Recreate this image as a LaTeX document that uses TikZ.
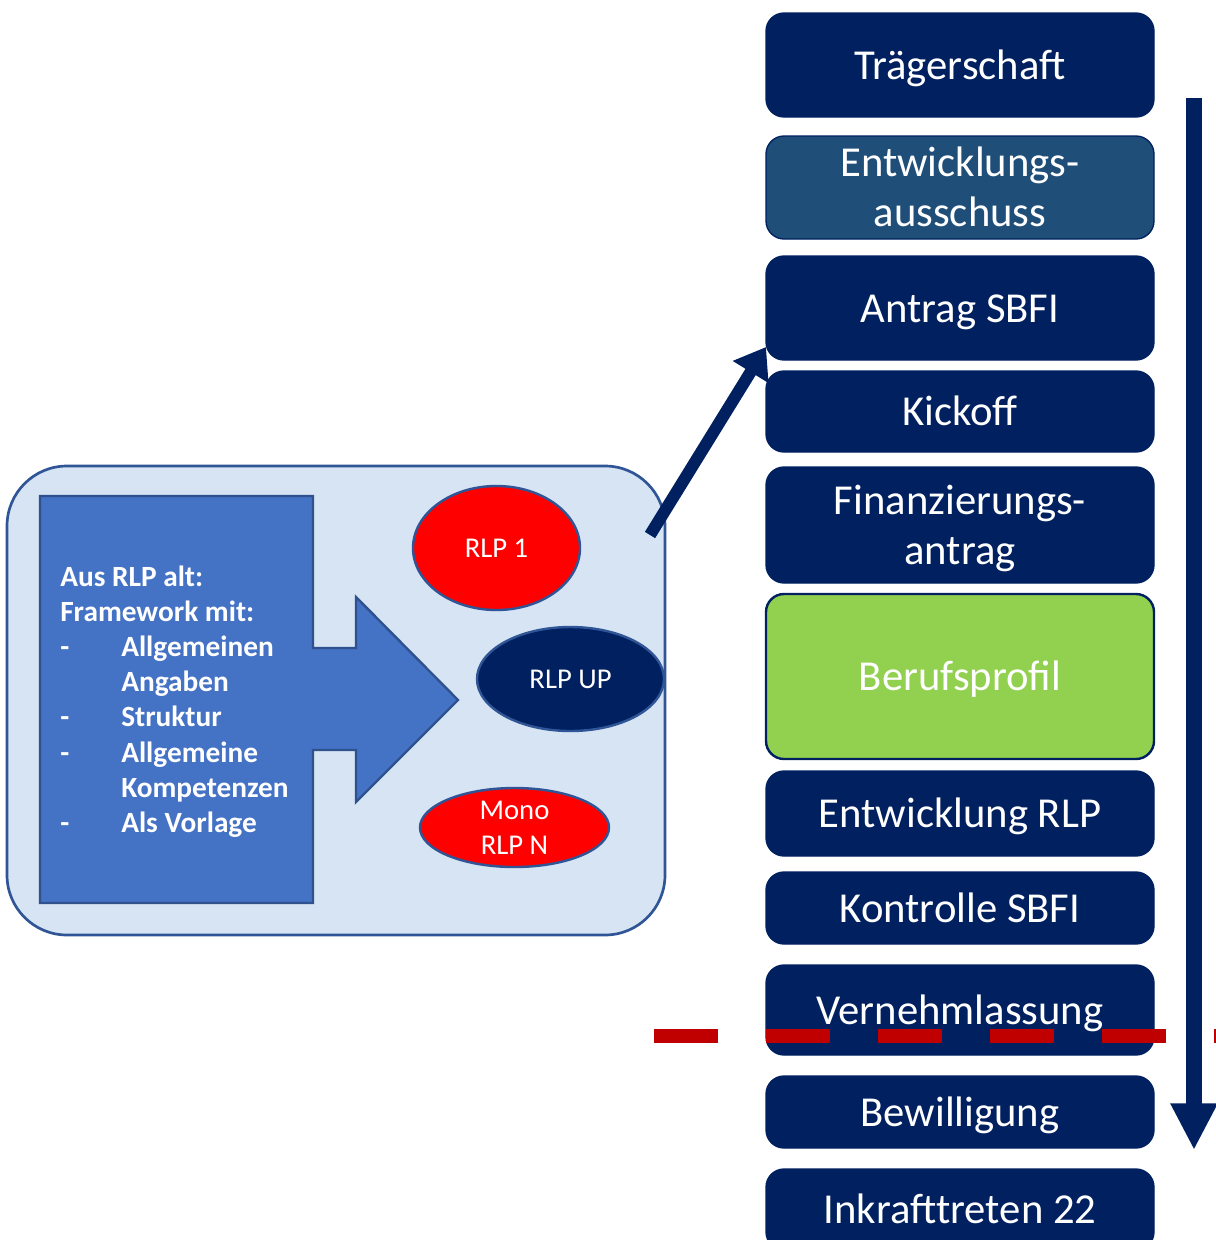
\documentclass[tikz,border=0pt]{standalone}
\usepackage{fontspec}
\setmainfont{Carlito}
\usetikzlibrary{arrows.meta,shapes.geometric}
\definecolor{navy}{HTML}{002060}
\definecolor{midblue}{HTML}{1F4E79}
\definecolor{leaf}{HTML}{92D050}
\definecolor{panelfill}{HTML}{D6E4F3}
\definecolor{panelline}{HTML}{2F5597}
\definecolor{blockblue}{HTML}{4472C4}
\definecolor{blockline}{HTML}{2F528F}
\definecolor{dashred}{HTML}{C00000}
\tikzset{
  stepbox/.style={rectangle, rounded corners=13.5pt, fill=navy, draw=navy, line width=1pt,
    minimum width=291pt, inner sep=0pt, text=white, align=center,
    text height=24pt, text depth=3pt,
    font=\fontsize{32}{37.5}\selectfont},
  twoline/.style={text height=61.5pt, text depth=3pt},
  blob/.style={ellipse, draw=panelline, line width=1.8pt, inner sep=0pt, text=white,
    align=center, font=\fontsize{21.5}{26.3}\selectfont},
  bigarrow/.style={draw=navy, line width=#1, -{Triangle[length=22pt, width=30pt]}},
}
\begin{document}
\begin{tikzpicture}[x=0.75pt, y=-0.75pt]
\useasboundingbox (0,0) rectangle (1216,1240);
\clip (0,0) rectangle (1216,1240);

% left panel
\node[draw=panelline, fill=panelfill, line width=2pt, rounded corners=45pt,
      minimum width=493.5pt, minimum height=351.75pt, inner sep=0pt] (panel) at (336,700.5) {};

% blue block arrow
\draw[fill=blockblue, draw=blockline, line width=1.8pt]
  (40,496) -- (313,496) -- (313,648) -- (356,648) -- (356,597) -- (458,700)
  -- (356,802) -- (356,750) -- (313,750) -- (313,903) -- (40,903) -- cycle;
\node[anchor=base west, inner sep=0pt, text=white, font=\fontsize{22}{26.4}\selectfont\bfseries] (list) at (60,586)
  {\begin{tabular}[t]{@{}p{45.75pt}@{}l@{}}
   \multicolumn{2}{@{}l@{}}{Aus RLP alt:}\\
   \multicolumn{2}{@{}l@{}}{Framework mit:}\\
   - & Allgemeinen\\
     & Angaben\\
   - & Struktur\\
   - & Allgemeine\\
     & Kompetenzen\\
   - & Als Vorlage
   \end{tabular}};

% ellipses
\node[blob, fill=red, minimum width=125.25pt, minimum height=93pt] (rlp1) at (496.5,548) {RLP 1};
\node[blob, fill=navy, minimum width=140.25pt, minimum height=78pt] (rlpup) at (570.5,679) {RLP UP};
\node[blob, fill=red, minimum width=141.75pt, minimum height=59.25pt] (mono) at (514.5,827.5) {Mono\\RLP N};

% right column
\node[stepbox, minimum height=78pt] (n1) at (960,65) {Trägerschaft};
\node[stepbox, twoline, fill=midblue, minimum height=77.25pt] (n2) at (960,187.5) {Entwicklungs-\\ausschuss};
\node[stepbox, minimum height=78pt] (n3) at (960,308) {Antrag SBFI};
\node[stepbox, minimum height=60.75pt] (n4) at (960,411.5) {Kickoff};
\node[stepbox, twoline, minimum height=87pt] (n5) at (960,525) {Finanzierungs-\\antrag};
\node[stepbox, fill=leaf, line width=1.8pt, minimum height=123.75pt] (n6) at (960,676.5) {Berufsprofil};
\node[stepbox, minimum height=63.75pt] (n7) at (960,813.5) {Entwicklung RLP};
\node[stepbox, minimum height=54pt] (n8) at (960,908) {Kontrolle SBFI};
\node[stepbox, minimum height=67.5pt] (n9) at (960,1010) {Vernehmlassung};
\node[stepbox, minimum height=54pt] (n10) at (960,1112) {Bewilligung};
\node[stepbox, minimum height=60.75pt] (n11) at (960,1209.5) {Inkrafttreten 22};

% connectors
\coordinate (tail) at (650,535);
\coordinate (tip) at (766,347);
\draw[bigarrow=9pt] (tail) -- (tip);

\coordinate (flowtop) at (1194,98);
\coordinate (flowend) at (1194,1150);
\draw[draw=navy, line width=12pt, -{Triangle[length=35pt, width=33pt]}] (flowtop) -- (flowend);

\coordinate (cutL) at (654,1036);
\coordinate (cutR) at (1230,1036);
\draw[dashred, line width=11pt, dash pattern=on 48pt off 36pt] (cutL) -- (cutR);
\end{tikzpicture}
\end{document}
